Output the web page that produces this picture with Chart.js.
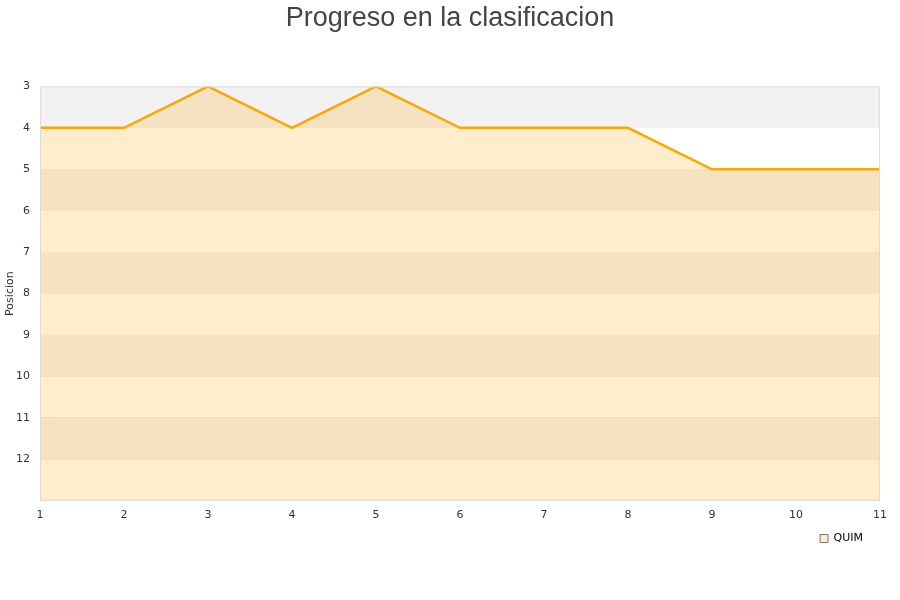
<!DOCTYPE html>
<html>
<head>
<meta charset="utf-8">
<script src="https://cdn.jsdelivr.net/npm/chart.js@4/dist/chart.umd.min.js"></script>
<style>
html,body{margin:0;padding:0;background:#fff;}
#wrap{width:900px;height:600px;position:relative;}
</style>
</head>
<body>
<div id="wrap"><canvas id="c" width="900" height="600"></canvas></div>
<script>
const jornadas = [1,2,3,4,5,6,7,8,9,10,11];
const posiciones = [4,4,3,4,3,4,4,4,5,5,5];
const serieNombre = 'QUIM';
const tituloTexto = 'Progreso en la clasificacion';
const ejeYTitulo = 'Posicion';
const yMin = 3, yMax = 13;

const bandsPlugin = {
  id: 'bands',
  afterLayout(chart) {
    const lg = chart.legend;
    if (lg) { lg.top -= 7; lg.bottom -= 7; lg.left -= 7; lg.right -= 7; }
  },
  beforeDatasetsDraw(chart) {
    const {ctx, chartArea, scales} = chart;
    const y = scales.y;
    ctx.save();
    for (let v = yMin; v < yMax; v++) {
      if ((v - yMin) % 2 === 0) {
        const t = y.getPixelForValue(v), b = y.getPixelForValue(v + 1);
        ctx.fillStyle = '#f2f2f2';
        ctx.fillRect(chartArea.left, t, chartArea.right - chartArea.left, b - t);
      }
    }
    ctx.restore();
  },
  afterDatasetsDraw(chart) {
    const {ctx, chartArea} = chart;
    ctx.save();
    ctx.strokeStyle = '#dcdcdc';
    ctx.lineWidth = 1;
    ctx.strokeRect(chartArea.left + 0.5, chartArea.top + 0.5, chartArea.right - chartArea.left - 1, chartArea.bottom - chartArea.top - 1);
    ctx.restore();
  }
};

new Chart(document.getElementById('c'), {
  type: 'line',
  data: {
    datasets: [{
      label: serieNombre,
      data: jornadas.map((j, i) => ({x: j, y: posiciones[i]})),
      borderColor: '#ffa500',
      borderWidth: 2.5,
      backgroundColor: 'rgba(255,165,0,0.2)',
      fill: {value: yMax},
      pointRadius: 0,
      tension: 0
    }]
  },
  options: {
    responsive: false,
    animation: false,
    layout: {padding: {left: 0, right: 0, top: 0, bottom: 39}},
    plugins: {
      title: {
        display: true,
        text: tituloTexto,
        color: '#444',
        font: {family: 'Liberation Sans, Arial, sans-serif', size: 27, weight: 'normal'},
        padding: {top: 2, bottom: 52}
      },
      legend: {
        display: true,
        position: 'bottom',
        align: 'end',
        fullSize: false,
        labels: {
          color: '#222',
          font: {family: 'DejaVu Sans, sans-serif', size: 11},
          boxWidth: 8,
          boxHeight: 8,
          padding: 10,
          generateLabels: (chart) => [{
            text: serieNombre,
            fillStyle: '#feedcc',
            strokeStyle: '#777',
            lineWidth: 1,
            datasetIndex: 0
          }]
        }
      },
      tooltip: {enabled: false}
    },
    scales: {
      x: {
        type: 'linear',
        min: 1,
        max: 11,
        ticks: {stepSize: 1, color: '#333', font: {family: 'DejaVu Sans, sans-serif', size: 11}, padding: 8},
        grid: {display: false, drawTicks: false},
        border: {display: false},
        afterFit: (s) => { s.paddingRight = 20; }
      },
      y: {
        reverse: true,
        min: yMin,
        max: yMax,
        ticks: {
          stepSize: 1,
          color: '#333',
          font: {family: 'DejaVu Sans, sans-serif', size: 11},
          padding: 10,
          callback: (v) => v === yMax ? '' : v
        },
        title: {display: true, text: ejeYTitulo, color: '#333', font: {family: 'DejaVu Sans, sans-serif', size: 11}, padding: {top: 4, bottom: 0}},
        grid: {color: 'rgba(180,140,80,0.18)', drawTicks: false},
        border: {display: false},
        afterFit: (s) => { s.width = 40; }
      }
    }
  },
  plugins: [bandsPlugin]
});
</script>
</body>
</html>
